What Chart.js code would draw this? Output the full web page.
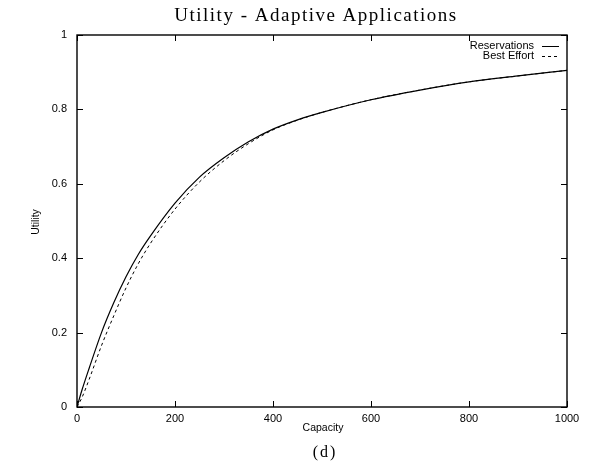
<!DOCTYPE html>
<html>
<head>
<meta charset="utf-8">
<script src="https://cdn.jsdelivr.net/npm/chart.js@4"></script>
<style>
  body { margin: 0; background: #fff; }
  #wrap { width: 591px; height: 471px; }
</style>
</head>
<body>
<div id="wrap"><canvas id="utilChart" width="591" height="471"></canvas></div>
<script>
const capacity = [0, 10, 25, 50, 75, 100, 125, 150, 200, 250, 300, 350, 400, 450, 500, 600, 700, 800, 900, 1000];
const reservations = [0, 0.045, 0.105, 0.2, 0.28, 0.35, 0.41, 0.46, 0.548, 0.618, 0.67, 0.713, 0.747, 0.772, 0.792, 0.826, 0.852, 0.874, 0.89, 0.905];
const bestEffort = [0, 0.025, 0.075, 0.165, 0.245, 0.32, 0.385, 0.44, 0.532, 0.605, 0.662, 0.708, 0.745, 0.771, 0.792, 0.826, 0.852, 0.874, 0.89, 0.905];
const xTicks = [0, 200, 400, 600, 800, 1000];
const yTicks = [0, 0.2, 0.4, 0.6, 0.8, 1];

const toPoints = (ys) => ys.map((y, i) => ({ x: capacity[i], y: y }));

const sansFont = "'Liberation Sans', Arial, sans-serif";
const serifFont = "'Liberation Serif', 'Times New Roman', serif";

// frame, inward ticks, legend and captions
const framePlugin = {
  id: 'frame',
  afterDatasetsDraw(chart) {
    const ctx = chart.ctx;
    const a = chart.chartArea;
    const xs = chart.scales.x, ys = chart.scales.y;
    ctx.save();
    ctx.strokeStyle = '#000';
    ctx.lineWidth = 1.4;
    ctx.strokeRect(a.left, a.top, a.right - a.left, a.bottom - a.top);
    ctx.lineWidth = 1;
    ctx.beginPath();
    xTicks.forEach(v => {
      const px = Math.round(xs.getPixelForValue(v)) + 0.5;
      ctx.moveTo(px, a.bottom); ctx.lineTo(px, a.bottom - 6);
      ctx.moveTo(px, a.top); ctx.lineTo(px, a.top + 6);
    });
    yTicks.forEach(v => {
      const py = Math.round(ys.getPixelForValue(v)) + 0.5;
      ctx.moveTo(a.left, py); ctx.lineTo(a.left + 6, py);
      ctx.moveTo(a.right, py); ctx.lineTo(a.right - 6, py);
    });
    ctx.stroke();

    // legend, text right aligned followed by line sample
    ctx.font = '11px ' + sansFont;
    ctx.fillStyle = '#000';
    ctx.textAlign = 'right';
    ctx.textBaseline = 'middle';
    chart.data.datasets.forEach((ds, i) => {
      const y = a.top + 11 + i * 10;
      ctx.fillText(ds.label, a.right - 33, y);
      ctx.beginPath();
      ctx.setLineDash(ds.borderDash || []);
      ctx.lineWidth = 1;
      ctx.moveTo(a.right - 25, y + 0.5);
      ctx.lineTo(a.right - 8, y + 0.5);
      ctx.stroke();
    });
    ctx.setLineDash([]);

    // captions
    ctx.textAlign = 'center';
    ctx.font = '19px ' + serifFont;
    ctx.letterSpacing = '1.5px';
    ctx.fillText('Utility - Adaptive Applications', 316, 16);
    ctx.font = '16px ' + serifFont;
    ctx.letterSpacing = '2px';
    ctx.fillText('(d)', 325, 453);
    ctx.letterSpacing = '0px';
    ctx.font = '10.5px ' + sansFont;
    ctx.fillText('Capacity', 323, 428);
    ctx.translate(36, 222);
    ctx.rotate(-Math.PI / 2);
    ctx.fillText('Utility', 0, 0);
    ctx.restore();
  }
};

new Chart(document.getElementById('utilChart'), {
  type: 'line',
  data: {
    datasets: [
      {
        label: 'Reservations',
        data: toPoints(reservations),
        borderColor: '#000',
        borderWidth: 1.2,
        pointRadius: 0,
        cubicInterpolationMode: 'monotone',
        fill: false
      },
      {
        label: 'Best Effort',
        data: toPoints(bestEffort),
        borderColor: '#000',
        borderWidth: 1,
        borderDash: [3, 3],
        pointRadius: 0,
        cubicInterpolationMode: 'monotone',
        fill: false
      }
    ]
  },
  options: {
    responsive: false,
    animation: false,
    layout: { padding: { top: 35, right: 24, left: 0, bottom: 0 } },
    plugins: { legend: { display: false }, title: { display: false }, tooltip: { enabled: false } },
    scales: {
      x: {
        type: 'linear',
        min: 0, max: 1000,
        afterFit: s => { s.height = 64; },
        afterBuildTicks: s => { s.ticks = xTicks.map(v => ({ value: v })); },
        grid: { display: false, drawTicks: false },
        border: { display: false },
        ticks: { color: '#000', font: { family: sansFont, size: 11 }, padding: 5, maxRotation: 0,
                 callback: v => String(v) }
      },
      y: {
        min: 0, max: 1,
        afterFit: s => { s.width = 77; },
        afterBuildTicks: s => { s.ticks = yTicks.map(v => ({ value: v })); },
        grid: { display: false, drawTicks: false },
        border: { display: false },
        ticks: { color: '#000', font: { family: sansFont, size: 11 }, padding: 10,
                 callback: v => String(Math.round(v * 10) / 10) }
      }
    }
  },
  plugins: [framePlugin]
});
</script>
</body>
</html>
